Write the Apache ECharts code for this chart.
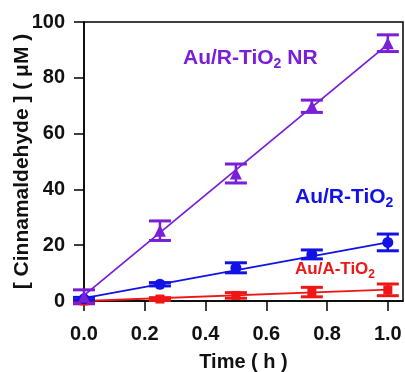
<!DOCTYPE html>
<html><head><meta charset="utf-8">
<script src="https://cdn.jsdelivr.net/npm/echarts@6/dist/echarts.min.js"></script>
<style>html,body{margin:0;padding:0;background:#fff}#c{width:405px;height:372px}</style>
</head><body><div id="c"></div>
<script>
// ---- data ----
var times = [0, 0.25, 0.5, 0.75, 1.0];
var xTicks = ['0.0', '0.2', '0.4', '0.6', '0.8', '1.0'];
var yTicks = [0, 20, 40, 60, 80, 100];
var nrValues = [1.5, 25.2, 45.7, 69.8, 92.4];
var nrErrors = [2.5, 3.5, 3.4, 2.2, 3.0];
var rValues = [0.8, 6.0, 11.9, 16.7, 21.0];
var rErrors = [0.5, 0.6, 1.8, 1.6, 3.0];
var aValues = [0, 0.7, 2.0, 3.2, 4.0];
var aErrors = [0.3, 0.5, 1.0, 1.7, 2.1];
var nrFit = [[0, 2], [1, 92]];
var rFit = [[0, 1], [1, 21]];
var aFit = [[0, 0], [1, 4.1]];

var cNR = '#7a1fd8', cR = '#1212e6', cA = '#f01616';
var FONT = 'Liberation Sans, Arial, sans-serif';

function pts(vals){ return times.map(function(t,i){ return [t, vals[i]]; }); }
function errData(vals, errs){ return times.map(function(t,i){ return [t, vals[i]-errs[i], vals[i]+errs[i]]; }); }
function errSeries(vals, errs, color){
  return {
    type: 'custom', silent: true, z: 3,
    data: errData(vals, errs),
    renderItem: function(params, api){
      var x = api.value(0);
      var lo = api.coord([x, api.value(1)]);
      var hi = api.coord([x, api.value(2)]);
      var w = 11;
      var st = {stroke: color, lineWidth: 2.5};
      return {type: 'group', children: [
        {type: 'line', shape: {x1: lo[0], y1: lo[1], x2: hi[0], y2: hi[1]}, style: st},
        {type: 'line', shape: {x1: lo[0]-w, y1: lo[1], x2: lo[0]+w, y2: lo[1]}, style: {stroke: color, lineWidth: 3}},
        {type: 'line', shape: {x1: hi[0]-w, y1: hi[1], x2: hi[0]+w, y2: hi[1]}, style: {stroke: color, lineWidth: 3}}
      ]};
    }
  };
}
function fitSeries(d, color){
  return {type: 'line', data: d, showSymbol: false, symbol: 'none', silent: true, z: 2,
    lineStyle: {color: color, width: 1.8}};
}
function markSeries(vals, color, sym, size){
  return {type: 'scatter', data: pts(vals), symbol: sym, symbolSize: size, z: 4,
    itemStyle: {color: color, opacity: 1}};
}

var chart = echarts.init(document.getElementById('c'), null, {renderer: 'canvas'});
chart.setOption({
  animation: false,
  grid: {left: 84, right: 2, top: 22, bottom: 71, show: true, borderColor: '#000', borderWidth: 1.5,
    containLabel: false, outerBoundsMode: 'none'},
  xAxis: {
    type: 'value', min: 0, max: 1.05, interval: 0.2,
    name: 'Time ( h )', nameLocation: 'middle', nameGap: 51, nameMoveOverlap: false,
    nameTextStyle: {fontFamily: FONT, fontWeight: 'bold', fontSize: 20, color: '#111'},
    axisLine: {show: true, lineStyle: {color: '#000', width: 1.5}},
    axisTick: {show: true, inside: false, length: 10, lineStyle: {color: '#000', width: 1.5}},
    axisLabel: {margin: 23, fontFamily: FONT, fontWeight: 'bold', fontSize: 20, color: '#111',
      showMaxLabel: false,
      formatter: function(v){ var i = Math.round(v/0.2); return (Math.abs(v - i*0.2) < 1e-6 && xTicks[i]) ? xTicks[i] : ''; }},
    splitLine: {show: false}
  },
  yAxis: {
    type: 'value', min: 0, max: 100, interval: 20,
    name: '[ Cinnamaldehyde ] ( μM )', nameLocation: 'middle', nameGap: 51, nameRotate: 90, nameMoveOverlap: false,
    nameTextStyle: {fontFamily: FONT, fontWeight: 'bold', fontSize: 21, color: '#111'},
    axisLine: {show: true, lineStyle: {color: '#000', width: 1.5}},
    axisTick: {show: true, inside: false, length: 10, lineStyle: {color: '#000', width: 1.5}},
    axisLabel: {margin: 19, fontFamily: FONT, fontWeight: 'bold', fontSize: 20, color: '#111',
      formatter: function(v){ return yTicks.indexOf(v) >= 0 ? String(v) : ''; }},
    splitLine: {show: false}
  },
  graphic: [
    {type: 'text', left: 183, top: 48, z: 10, style: {
      text: '{m|Au/R-TiO}{s|2}{m| NR}', rich: {
        m: {fontFamily: FONT, fontWeight: 'bold', fontSize: 21, fill: cNR, color: cNR},
        s: {fontFamily: FONT, fontWeight: 'bold', fontSize: 14, fill: cNR, color: cNR, padding: [12,0,0,0]}
      }}},
    {type: 'text', left: 295, top: 187, z: 10, style: {
      text: '{m|Au/R-TiO}{s|2}', rich: {
        m: {fontFamily: FONT, fontWeight: 'bold', fontSize: 21, fill: cR, color: cR},
        s: {fontFamily: FONT, fontWeight: 'bold', fontSize: 14, fill: cR, color: cR, padding: [12,0,0,0]}
      }}},
    {type: 'text', left: 295, top: 261, z: 10, style: {
      text: '{m|Au/A-TiO}{s|2}', rich: {
        m: {fontFamily: FONT, fontWeight: 'bold', fontSize: 17, fill: cA, color: cA},
        s: {fontFamily: FONT, fontWeight: 'bold', fontSize: 12, fill: cA, color: cA, padding: [10,0,0,0]}
      }}}
  ],
  series: [
    fitSeries(aFit, cA), fitSeries(rFit, cR), fitSeries(nrFit, cNR),
    errSeries(aValues, aErrors, cA), errSeries(rValues, rErrors, cR), errSeries(nrValues, nrErrors, cNR),
    markSeries(aValues, cA, 'rect', 9), markSeries(rValues, cR, 'circle', 11), markSeries(nrValues, cNR, 'triangle', 12)
  ]
});
</script></body></html>
